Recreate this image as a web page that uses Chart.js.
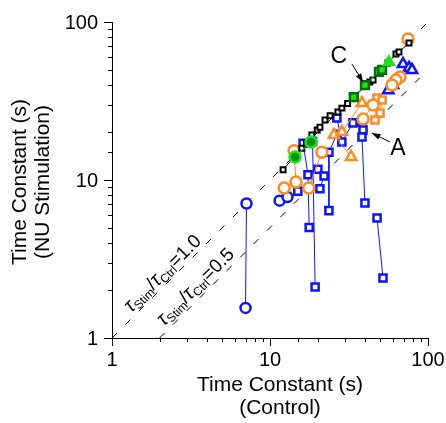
<!DOCTYPE html>
<html>
<head>
<meta charset="utf-8">
<script src="https://cdn.jsdelivr.net/npm/chart.js@4"></script>
<style>
html, body { margin: 0; padding: 0; background: #fff; }
</style>
</head>
<body>
<canvas id="chart1" width="446" height="423"></canvas>
<script>
// values (seconds), x = control, y = NU stimulation
var refX = [1, 100];
var ratioLines = [1.0, 0.5];
var decades = [1, 10, 100];

var blackX = [12.1, 15.9, 17.0, 18.4, 19.9, 20.7, 22.3, 24.0, 26.9, 28.5, 31.0, 34.5, 42.9, 44.9, 55.8, 62.7, 65.5, 75.8];
var blackY = [11.6, 15.9, 17.2, 19.3, 20.7, 21.6, 24.0, 25.5, 26.9, 28.5, 30.5, 34.0, 41.7, 42.9, 55.0, 62.7, 64.6, 73.6];

var greenCircX = [14.4, 18.2];
var greenCircY = [14.0, 17.4];
var greenSqX = [33.9, 39.9, 48.9, 51.2];
var greenSqY = [33.5, 39.9, 48.3, 49.7];
var greenTriX = [56.6];
var greenTriY = [55.8];

var orangeCirc1X = [74.8];
var orangeCirc1Y = [78.0];
var orangeCirc2X = [66.5, 62.7, 59.2];
var orangeCirc2Y = [44.9, 42.9, 39.9];
var orangeCirc3X = [44.9, 38.8];
var orangeCirc3Y = [29.8, 24.3];
var orangeCirc4X = [12.3, 14.6, 14.2];
var orangeCirc4Y = [8.9, 9.7, 15.3];
var orangeCirc5X = [17.6, 21.3];
var orangeCirc5Y = [8.9, 15.0];
var orangeSqX = [47.6, 51.2, 49.7, 46.2];
var orangeSqY = [33.0, 32.1, 26.5, 24.0];
var orangeTriX = [32.6, 25.4, 28.5, 38.2];
var orangeTriY = [14.0, 19.3, 20.1, 30.7];

var blueCirc1X = [7.1, 7.0];
var blueCirc1Y = [7.1, 1.55];
var blueCirc2X = [11.5, 12.9];
var blueCirc2Y = [7.4, 7.8];
var blueSq1X = [16.2, 17.4, 17.7];
var blueSq1Y = [17.1, 10.8, 5.0];
var blueSq2X = [18.6, 19.3];
var blueSq2Y = [17.5, 2.1];
var blueSq3X = [20.1, 22.0, 20.7];
var blueSq3Y = [11.7, 10.6, 8.8];
var blueSq4X = [26.5, 23.6, 23.6];
var blueSq4Y = [19.5, 15.0, 6.4];
var blueSq5X = [38.2, 38.8, 38.2, 39.9];
var blueSq5Y = [23.3, 20.7, 18.7, 7.15];
var blueSq6X = [47.6, 51.9];
var blueSq6Y = [5.75, 2.4];
var blueSq7X = [26.5, 28.5, 33.5];
var blueSq7Y = [24.7, 17.4, 23.0];
var blueSq8X = [15.0];
var blueSq8Y = [8.5];
var blueTri1X = [69.5, 75.8, 79.2];
var blueTri1Y = [54.2, 51.2, 49.7];
var blueTri2X = [56.0, 60.0];
var blueTri2Y = [37.0, 39.9];

var BLUE = '#0a14ff';
var ORANGE = '#ff8a1e';
var GREEN = '#19e619';
var BLACK = '#000000';

function series(xs, ys, color, style, size, fill, edge) {
    var pts = [];
    for (var i = 0; i < xs.length; i++) {
        pts.push({x: xs[i], y: ys[i]});
    }
    return {
        data: pts,
        showLine: true,
        borderColor: color,
        borderWidth: 1,
        pointStyle: style,
        pointRadius: size,
        pointBorderColor: edge || color,
        pointBackgroundColor: fill || '#ffffff',
        pointBorderWidth: color == BLACK ? 2 : 2.5
    };
}

function refLine(ratio) {
    var pts = [];
    for (var i = 0; i < refX.length; i++) {
        var x = refX[i];
        if (x * ratio < 1) x = 1 / ratio;
        pts.push({x: x, y: x * ratio});
    }
    return {
        data: pts,
        showLine: true,
        borderColor: BLACK,
        borderWidth: 1,
        borderDash: [7, 12],
        pointRadius: 0
    };
}

var datasets = [
    series(greenTriX, greenTriY, GREEN, 'triangle', 5.5, GREEN),
    series(greenSqX, greenSqY, GREEN, 'rect', 5.5, GREEN, '#0b6b0b'),
    series(greenCircX, greenCircY, GREEN, 'circle', 5.5, '#0f8f0f'),
    series(blackX, blackY, BLACK, 'rect', 3.5),
    series(orangeCirc1X, orangeCirc1Y, ORANGE, 'circle', 5.5),
    series(orangeCirc2X, orangeCirc2Y, ORANGE, 'circle', 5.5),
    series(orangeCirc3X, orangeCirc3Y, ORANGE, 'circle', 5.5),
    series(orangeCirc4X, orangeCirc4Y, ORANGE, 'circle', 5.5),
    series(orangeCirc5X, orangeCirc5Y, ORANGE, 'circle', 5.5),
    series(orangeSqX, orangeSqY, ORANGE, 'rect', 5),
    series(orangeTriX, orangeTriY, ORANGE, 'triangle', 6),
    series(blueCirc1X, blueCirc1Y, BLUE, 'circle', 5),
    series(blueCirc2X, blueCirc2Y, BLUE, 'circle', 5),
    series(blueSq1X, blueSq1Y, BLUE, 'rect', 5),
    series(blueSq2X, blueSq2Y, BLUE, 'rect', 5),
    series(blueSq3X, blueSq3Y, BLUE, 'rect', 5),
    series(blueSq4X, blueSq4Y, BLUE, 'rect', 5),
    series(blueSq5X, blueSq5Y, BLUE, 'rect', 5),
    series(blueSq6X, blueSq6Y, BLUE, 'rect', 5),
    series(blueSq7X, blueSq7Y, BLUE, 'rect', 5),
    series(blueSq8X, blueSq8Y, BLUE, 'rect', 5),
    series(blueTri1X, blueTri1Y, BLUE, 'triangle', 6),
    series(blueTri2X, blueTri2Y, BLUE, 'triangle', 6),
    refLine(ratioLines[0]),
    refLine(ratioLines[1])
];

var FONT = '"Liberation Sans", Arial, Helvetica, sans-serif';

function drawArrow(ctx, x0, y0, x1, y1) {
    var ang = Math.atan2(y1 - y0, x1 - x0);
    ctx.beginPath();
    ctx.moveTo(x0, y0);
    ctx.lineTo(x1, y1);
    ctx.stroke();
    ctx.beginPath();
    ctx.moveTo(x1, y1);
    ctx.lineTo(x1 - 9 * Math.cos(ang - 0.35), y1 - 9 * Math.sin(ang - 0.35));
    ctx.lineTo(x1 - 9 * Math.cos(ang + 0.35), y1 - 9 * Math.sin(ang + 0.35));
    ctx.closePath();
    ctx.fill();
}

function drawRatioLabel(ctx, xs, ys, ratio, atX, lift, tail) {
    var px = xs.getPixelForValue(atX);
    var py = ys.getPixelForValue(atX * ratio);
    ctx.save();
    ctx.translate(px, py);
    ctx.rotate(-Math.PI / 4);
    ctx.textBaseline = 'alphabetic';
    ctx.textAlign = 'left';
    var parts = [
        ['italic 20px ' + FONT, '\u03C4', 0],
        ['12px ' + FONT, 'Stim', 3],
        ['19px ' + FONT, '/', 0],
        ['italic 20px ' + FONT, '\u03C4', 0],
        ['12px ' + FONT, 'Ctrl', 3],
        ['19px ' + FONT, tail, 0]
    ];
    var x = 0;
    for (var i = 0; i < parts.length; i++) {
        ctx.font = parts[i][0];
        ctx.fillText(parts[i][1], x, -lift + parts[i][2]);
        x += ctx.measureText(parts[i][1]).width;
    }
    ctx.restore();
}

var decor = {
    id: 'decor',
    afterDraw: function(chart) {
        var ctx = chart.ctx;
        var xs = chart.scales.x;
        var ys = chart.scales.y;
        var a = chart.chartArea;
        ctx.save();
        ctx.strokeStyle = BLACK;
        ctx.fillStyle = BLACK;
        ctx.lineWidth = 1;

        // axis ticks, longer on the decades
        xs.ticks.forEach(function(t) {
            var p = Math.round(xs.getPixelForValue(t.value)) + 0.5;
            var major = decades.indexOf(t.value) >= 0;
            ctx.beginPath();
            ctx.moveTo(p, a.bottom);
            ctx.lineTo(p, a.bottom + (major ? 8 : 4));
            ctx.stroke();
        });
        ys.ticks.forEach(function(t) {
            var p = Math.round(ys.getPixelForValue(t.value)) + 0.5;
            var major = decades.indexOf(t.value) >= 0;
            ctx.beginPath();
            ctx.moveTo(a.left, p);
            ctx.lineTo(a.left - (major ? 8 : 4), p);
            ctx.stroke();
        });

        // decade labels
        ctx.font = '20px ' + FONT;
        ctx.textBaseline = 'middle';
        ctx.textAlign = 'center';
        decades.forEach(function(v) {
            ctx.fillText(String(v), xs.getPixelForValue(v), a.bottom + 22);
        });
        ctx.textAlign = 'right';
        decades.forEach(function(v) {
            ctx.fillText(String(v), a.left - 14, ys.getPixelForValue(v) + 1);
        });

        // axis titles
        ctx.font = '21px ' + FONT;
        ctx.textAlign = 'center';
        var cx = 280;
        ctx.fillText('Time Constant (s)', cx, 385);
        ctx.fillText('(Control)', cx, 408);
        ctx.save();
        ctx.translate(20, 182);
        ctx.rotate(-Math.PI / 2);
        ctx.fillText('Time Constant (s)', 0, 0);
        ctx.fillText('(NU Stimulation)', 0, 23);
        ctx.restore();

        // ratio labels along the dashed lines
        drawRatioLabel(ctx, xs, ys, ratioLines[0], 1.38, 4, '=1.0');
        drawRatioLabel(ctx, xs, ys, ratioLines[1], 2.25, 5, '=0.5');

        // group annotations
        ctx.font = '23px ' + FONT;
        ctx.textAlign = 'center';
        ctx.textBaseline = 'middle';
        ctx.fillText('C', xs.getPixelForValue(27.3), ys.getPixelForValue(60));
        ctx.fillText('A', xs.getPixelForValue(64.6), ys.getPixelForValue(15.9));
        drawArrow(ctx, xs.getPixelForValue(33.0), ys.getPixelForValue(54.2),
            xs.getPixelForValue(38.8), ys.getPixelForValue(41.7));
        drawArrow(ctx, xs.getPixelForValue(57.5), ys.getPixelForValue(17.4),
            xs.getPixelForValue(44.2), ys.getPixelForValue(19.8));
        ctx.restore();
    }
};

var config = {
    type: 'scatter',
    data: { datasets: datasets },
    plugins: [decor],
    options: {
        responsive: false,
        animation: false,
        layout: { padding: { top: 22, right: 18, left: 0, bottom: 0 } },
        plugins: {
            legend: { display: false },
            tooltip: { enabled: false }
        },
        scales: {
            x: {
                type: 'logarithmic',
                position: 'bottom',
                min: 1,
                max: 100,
                grid: { display: false },
                border: { display: true, color: BLACK, width: 1 },
                ticks: { display: false },
                afterFit: function(s) { s.height = 85; }
            },
            y: {
                type: 'logarithmic',
                position: 'left',
                min: 1,
                max: 100,
                grid: { display: false },
                border: { display: true, color: BLACK, width: 1 },
                ticks: { display: false },
                afterFit: function(s) { s.width = 112; }
            }
        }
    }
};

var ctx = document.getElementById('chart1').getContext('2d');
window.myChart = new Chart(ctx, config);
</script>
</body>
</html>
